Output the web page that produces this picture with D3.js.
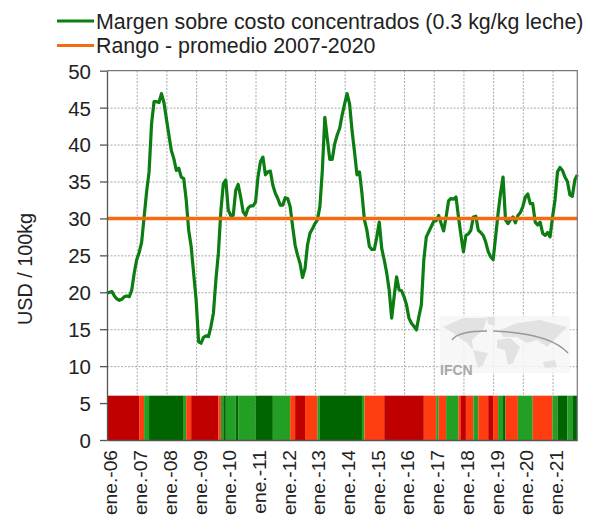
<!DOCTYPE html>
<html>
<head>
<meta charset="utf-8">
<script src="https://cdn.jsdelivr.net/npm/d3@7"></script>
<style>
  html, body { margin: 0; padding: 0; background: #fff; overflow: hidden; }
  svg { display: block; font-family: "Liberation Sans", Arial, sans-serif; }
  .grid line { stroke: #aaa; stroke-dasharray: 2 1.5; }
  .grid path { display: none; }
  .axis text { font-size: 20.5px; fill: #222; }
  .axis path, .axis line { stroke: #555; stroke-width: 1.3; }
</style>
</head>
<body>
<svg width="595" height="516"></svg>
<script>
// monthly margin, ene.-06 onwards (191 months)
var margin = [
  19.9,20,20.1,19.5,19.1,18.9,19.05,19.4,19.5,19.4,20.3,22.6,
  24.4,25.4,26.8,30.2,33.6,36.3,42.8,45.8,45.8,45.7,46.9,45.7,
  43.5,41.3,39.2,38.1,36.5,36.8,35.6,35.4,32.5,28.4,26.2,22.6,
  19,13.3,13.1,13.9,14.1,14,15.4,17.2,21.7,25.3,31,34.7,
  35.2,31.1,30.4,30.4,33.8,34.6,32.9,30.9,30.4,31.4,31.7,31.7,
  32.2,35.6,37.7,38.3,35.9,36.3,36.4,34.5,33.4,32.7,31.8,31.8,
  32.8,32.7,31.6,28.9,26.4,25,23.9,22,23.2,26.4,28,28.6,
  29.3,29.8,31.6,36.5,43.7,40.8,38,38,40.1,41.3,42.2,44,
  45.5,46.9,45.5,41.9,39,35.9,36.3,33.4,29.8,28.4,26.2,25.8,
  25.8,27.5,29.5,25.9,24.4,22.6,20.3,16.5,19.4,22.1,20.3,20.2,
  19.4,18.3,16.5,15.8,15.4,14.9,16.7,18.3,24.4,27.5,28.2,28.9,
  29.6,29.7,30.4,29.3,28.3,30.2,32.4,32.7,32.6,32.9,30.2,27.7,
  25.5,27.7,27.9,28.4,30.2,30.3,28.4,28.1,27.7,26.8,25.5,24.8,
  24.4,27.5,30.7,33.4,35.6,29.8,29.3,29.8,30.2,29.4,30.4,30.8,
  31.6,32.9,33.3,32,32,29.5,29.1,29.5,28,27.7,28.1,27.5,
  30.2,32.5,36.3,36.9,36.5,35.6,35,33.2,33,35.2,35.9
];
var average = [30, 30];
var avgMonths = [0, 190];

var yearLabels = ["ene.-06","ene.-07","ene.-08","ene.-09","ene.-10","ene.-11","ene.-12","ene.-13",
                  "ene.-14","ene.-15","ene.-16","ene.-17","ene.-18","ene.-19","ene.-20","ene.-21"];
var yTicks = [0,5,10,15,20,25,30,35,40,45,50];
var seriesNames = ["Margen sobre costo concentrados (0.3 kg/kg leche)", "Rango - promedio 2007-2020"];
var seriesColors = ["#0b7d12", "#f36c12"];

// colour band: start month of each run and its level
var bandStarts = [0,13,15,17,31,32,34,45,46,47,48,52,53,60,67,74,76,80,85,86,103,104,112,128,133,134,137,142,143,145,148,150,154,156,158,160,161,166,172,180,182,186,188,190];
var bandLevels = ["r","o","l","d","l","o","r","o","l","d","l","d","l","d","l","o","r","o","l","d","l","o","r","o","l","o","l","o","r","o","l","o","r","o","l","d","o","l","o","l","d","l","d"];
var bandTop = 6;
var bandColor = d3.scaleOrdinal()
    .domain(["r","o","l","d"])
    .range(["#c00000","#ff3d10","#23a023","#006400"]);

var svg = d3.select("svg"),
    x   = d3.scaleLinear().domain([0,190]).range([107,577.3]),
    y   = d3.scaleLinear().domain([0,50]).range([440,70.7]);

// grid
svg.append("g").attr("class","grid")
    .attr("transform","translate(107,0)")
    .call(d3.axisLeft(y).tickValues(yTicks.slice(1,-1)).tickSize(-470.3).tickFormat(""));
svg.append("g").attr("class","grid")
    .attr("transform","translate(0,440)")
    .call(d3.axisBottom(x).tickValues(d3.range(12,181,12)).tickSize(-369.3).tickFormat(""));

// band
svg.append("g").selectAll("rect")
    .data(bandLevels)
    .enter().append("rect")
      .attr("x", (d,i)=> x(bandStarts[i]))
      .attr("width", (d,i)=> x(bandStarts[i+1]) - x(bandStarts[i]))
      .attr("y", y(bandTop))
      .attr("height", y(0) - y(bandTop))
      .style("fill", d=> bandColor(d));

// IFCN watermark
var wm = svg.append("g").attr("transform","translate(440,316)");
wm.append("rect").attr("width",130).attr("height",57).style("fill","#f6f6f6").style("opacity",0.85);
var continents = [
  "M3 11L23 2L47 2L43 14L32 24L33 34L27 27L13 17Z",
  "M47 1L55 1L55 10L48 8Z",
  "M33 34L48 37L43 49L38 52L35 41Z",
  "M57 24L70 22L80 31L73 47L68 49L65 34L57 32Z",
  "M60 14L77 7L100 4L127 11L117 21L107 31L97 24L87 27L77 21L63 21Z",
  "M103 46L115 44L117 51L105 52Z"
];
wm.selectAll(".land").data(continents).enter().append("path")
    .attr("class","land").attr("d",d=>d).style("fill","#e2e2e2");
wm.append("path").attr("d","M12 24 Q18 15 47 15").style("fill","none").style("stroke","#999").style("stroke-width",1.5);
wm.append("path").attr("d","M53 15 Q110 17 128 37").style("fill","none").style("stroke","#999").style("stroke-width",1.5);
wm.append("text").attr("x",0).attr("y",59).text("IFCN")
    .style("font-size","14px").style("font-weight","bold").style("fill","#a8a8a8");

// lines
var line = d3.line().x((d,i)=> x(i)).y(d=> y(d));
svg.append("path").datum(margin)
    .attr("d", line)
    .style("fill","none").style("stroke",seriesColors[0]).style("stroke-width",3.2).style("stroke-linejoin","round");
svg.append("path").datum(average)
    .attr("d", d3.line().x((d,i)=> x(avgMonths[i])).y(d=> y(d)))
    .style("fill","none").style("stroke",seriesColors[1]).style("stroke-width",3.5);

// frame
svg.append("path").attr("d", "M107 70.7H577.3V440").style("fill","none").style("stroke","#777").style("stroke-width",1.2);

// axes
var yAxis = svg.append("g").attr("class","axis")
    .attr("transform","translate(107,0)")
    .call(d3.axisLeft(y).tickValues(yTicks).tickSize(7).tickSizeOuter(0).tickPadding(9));
yAxis.selectAll("text").attr("dy","0.36em");

var xAxis = svg.append("g").attr("class","axis")
    .attr("transform","translate(0,440)")
    .call(d3.axisBottom(x).tickValues(d3.range(0,181,12)).tickSize(0).tickSizeOuter(0)
            .tickFormat((d,i)=> yearLabels[i]));
xAxis.selectAll("text")
    .attr("transform","translate(3,10) rotate(-90)")
    .attr("x",0).attr("y",0).attr("dy","0.36em")
    .style("text-anchor","end")
    .style("font-size","19.2px");

// y title
svg.append("text")
    .attr("transform","translate(32,269) rotate(-90)")
    .style("text-anchor","middle").style("font-size","19.8px").style("fill","#222")
    .text("USD / 100kg");

// legend
var legend = svg.append("g").selectAll("g").data(seriesNames).enter().append("g")
    .attr("transform",(d,i)=> "translate(0," + (21 + i*24.5) + ")");
legend.append("line").attr("x1",57).attr("x2",94)
    .style("stroke",(d,i)=> seriesColors[i]).style("stroke-width",3);
legend.append("text").attr("x",96).attr("y",7.5)
    .style("font-size","21.4px").style("fill","#222")
    .text(d=> d);
</script>
</body>
</html>
